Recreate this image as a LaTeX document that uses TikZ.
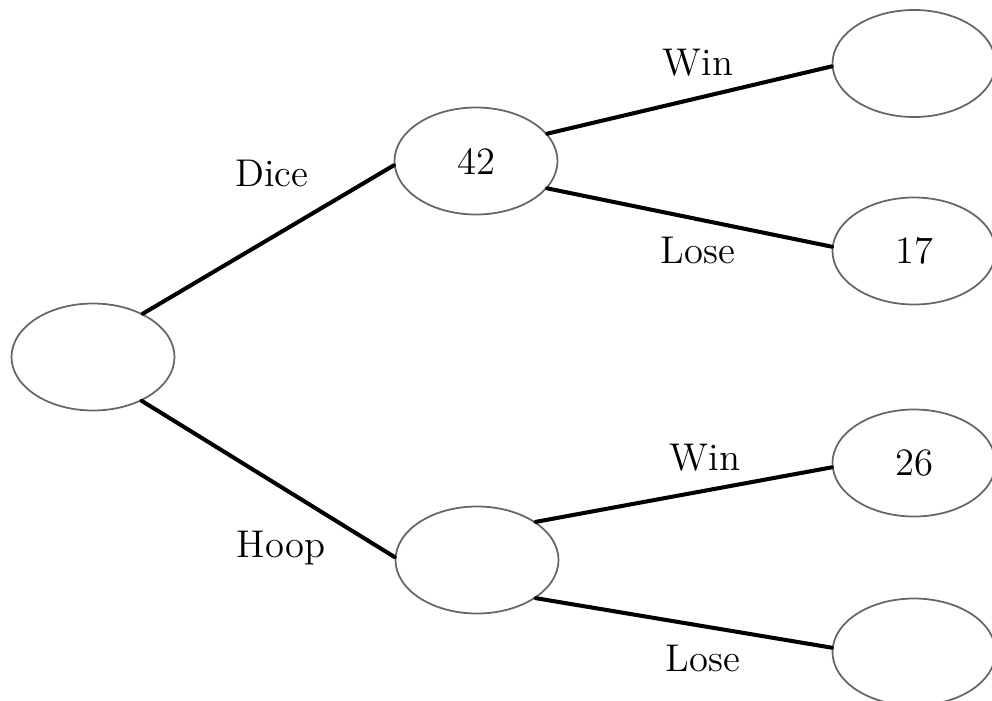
\documentclass[tikz,border=0pt]{standalone}
\usepackage{tikz}
\usetikzlibrary{positioning,shapes.geometric}
\tikzset{
    font=\fontsize{11}{13}\selectfont,
    outcome/.style = {
        draw=black!60,
        shape=ellipse,
        minimum width=1.63cm,
        minimum height=1.07cm,
        inner sep=0pt,
        line width=0.5pt
    },
    branch/.style = {
        line width=1.15pt,
        line cap=round
    },
    choice/.style = {
        anchor=base,
        inner sep=0pt
    },
}
\begin{document}
\begin{tikzpicture}
                \useasboundingbox (0,0) rectangle (9.92,-7.01);
                \node[outcome] (start) at (0.93,-3.57) {};
                \node[outcome] (dice) at (4.76,-1.61) {42};
                \node[outcome] (hoop) at (4.77,-5.60) {};
                \node[outcome] (dicewin) at (9.14,-0.635) {};
                \node[outcome] (dicelose) at (9.14,-2.51) {17};
                \node[outcome] (hoopwin) at (9.14,-4.63) {26};
                \node[outcome] (hooplose) at (9.14,-6.52) {};

                \node[choice] (dicelbl) at (2.72,-1.86) {Dice};
                \node[choice] (hooplbl) at (2.81,-5.57) {Hoop};
                \node[choice] (dicewinlbl) at (6.98,-0.75) {Win};
                \node[choice] (diceloselbl) at (6.98,-2.63) {Lose};
                \node[choice] (hoopwinlbl) at (7.05,-4.70) {Win};
                \node[choice] (hooploselbl) at (7.03,-6.71) {Lose};

                \path[draw, branch] (start.41) -- (dice.183);
                \path[draw, branch] (start.-42) -- (hoop.178);
                \path[draw, branch] (dice.21) -- (dicewin.182);
                \path[draw, branch] (dice.-21) -- (dicelose.177);
                \path[draw, branch] (hoop.33) -- (hoopwin.183);
                \path[draw, branch] (hoop.-33) -- (hooplose.177);
            \end{tikzpicture}
\end{document}
